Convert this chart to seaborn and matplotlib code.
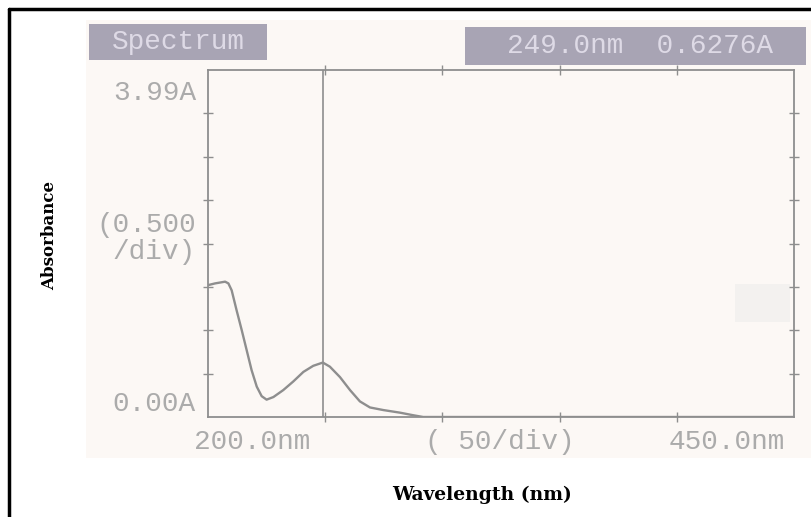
import numpy as np
import pandas as pd
import matplotlib
matplotlib.use("Agg")
import matplotlib.pyplot as plt
from matplotlib.patches import Rectangle
from matplotlib.lines import Line2D
import seaborn as sns

# ---- data ----
wavelength = [200, 203.0, 207.3, 208.7, 210.1, 212.2, 214.4, 216.5, 218.6, 220.8,
              222.9, 225.0, 227.9, 232.1, 236.4, 240.7, 244.9, 249.0, 252.0, 256.3,
              260.6, 264.8, 269.1, 274.8, 281.9, 287.6, 291.8, 350, 400, 450]
absorbance = [1.52, 1.54, 1.56, 1.54, 1.46, 1.23, 1.00, 0.77, 0.54, 0.35,
              0.24, 0.20, 0.23, 0.31, 0.41, 0.52, 0.59, 0.6276, 0.58, 0.46,
              0.31, 0.18, 0.11, 0.08, 0.05, 0.02, 0.0, 0.0, 0.0, 0.0]
cursor_nm = 249.0
cursor_abs = 0.6276
x_ticks = [250, 300, 350, 400]
y_ticks = [0.5, 1.0, 1.5, 2.0, 2.5, 3.0, 3.5]

df = pd.DataFrame({"Wavelength": wavelength, "Absorbance": absorbance})

sns.set_style("white")
plt.rcParams["font.family"] = ["DejaVu Sans"]

W, H = 812, 517
fig = plt.figure(figsize=(W / 100, H / 100), dpi=100)
fig.patch.set_facecolor("white")

def fx(px):
    return px / W

def fy(py):
    return 1 - py / H

# scanned paper background
fig.patches.append(Rectangle((fx(86), fy(458)), fx(812 - 86), (458 - 20) / H,
                             transform=fig.transFigure, facecolor="#fcf8f5",
                             edgecolor="none", zorder=-2))
# faint artefact block at right
fig.patches.append(Rectangle((fx(735), fy(322)), fx(55), 38 / H,
                             transform=fig.transFigure, facecolor="#f3f1ef",
                             edgecolor="none", zorder=-1))
# header boxes
fig.patches.append(Rectangle((fx(89), fy(60)), fx(267 - 89), 36 / H,
                             transform=fig.transFigure, facecolor="#a8a4b4",
                             edgecolor="none", zorder=-1))
fig.patches.append(Rectangle((fx(465), fy(65)), fx(806 - 465), 38 / H,
                             transform=fig.transFigure, facecolor="#a8a4b4",
                             edgecolor="none", zorder=-1))
# outer black border (left & top)
fig.lines.append(Line2D([fx(9), fx(9)], [0, fy(9)], transform=fig.transFigure,
                        color="black", lw=2.5))
fig.lines.append(Line2D([fx(9), 1], [fy(9), fy(9)], transform=fig.transFigure,
                        color="black", lw=2.5))

ax = fig.add_axes([fx(208), fy(417), fx(794 - 208), (417 - 70) / H])
ax.set_facecolor("none")
ax.set_zorder(2)
gray = "#8e8e8e"
sns.lineplot(data=df, x="Wavelength", y="Absorbance", ax=ax, color=gray, lw=1.7,
             estimator=None, sort=False)
ax.axvline(cursor_nm, color=gray, lw=1.2)
ax.set_xlim(200, 450)
ax.set_ylim(0, 4.0)
for s in ax.spines.values():
    s.set_visible(True)
    s.set_color(gray)
    s.set_linewidth(1.3)
ax.set_xticks(x_ticks)
ax.set_yticks(y_ticks)
ax.tick_params(axis="both", which="both", direction="inout", length=7, width=1,
               colors=gray, top=True, bottom=True, left=True, right=True,
               labelbottom=False, labelleft=False, labeltop=False, labelright=False)
ax.set_xlabel("")
ax.set_ylabel("")

mono = dict(family="Liberation Mono", color="#ababab", fontsize=20)
fig.text(fx(196), fy(93), "3.99A", ha="right", va="center", **mono)
fig.text(fx(196), fy(225), "(0.500", ha="right", va="center", **mono)
fig.text(fx(196), fy(252), "/div)", ha="right", va="center", **mono)
fig.text(fx(196), fy(404), "0.00A", ha="right", va="center", **mono)
fig.text(fx(252), fy(442), "200.0nm", ha="center", va="center", **mono)
fig.text(fx(500), fy(442), "( 50/div)", ha="center", va="center", **mono)
fig.text(fx(727), fy(442), "450.0nm", ha="center", va="center", **mono)

hdr = dict(family="Liberation Mono", color="#dedae6", fontsize=20)
fig.text(fx(178), fy(42), "Spectrum", ha="center", va="center", **hdr)
fig.text(fx(640), fy(46), f"{cursor_nm:.1f}nm  {cursor_abs:.4f}A", ha="center",
         va="center", **hdr)

serif = dict(family="DejaVu Serif", fontweight="bold", color="black")
fig.text(fx(50), fy(236), "Absorbance", rotation=90, ha="center", va="center",
         fontsize=12, **serif)
fig.text(fx(482), fy(495), "Wavelength (nm)", ha="center", va="center",
         fontsize=13.5, **serif)

fig.savefig("out.png", dpi=100)
